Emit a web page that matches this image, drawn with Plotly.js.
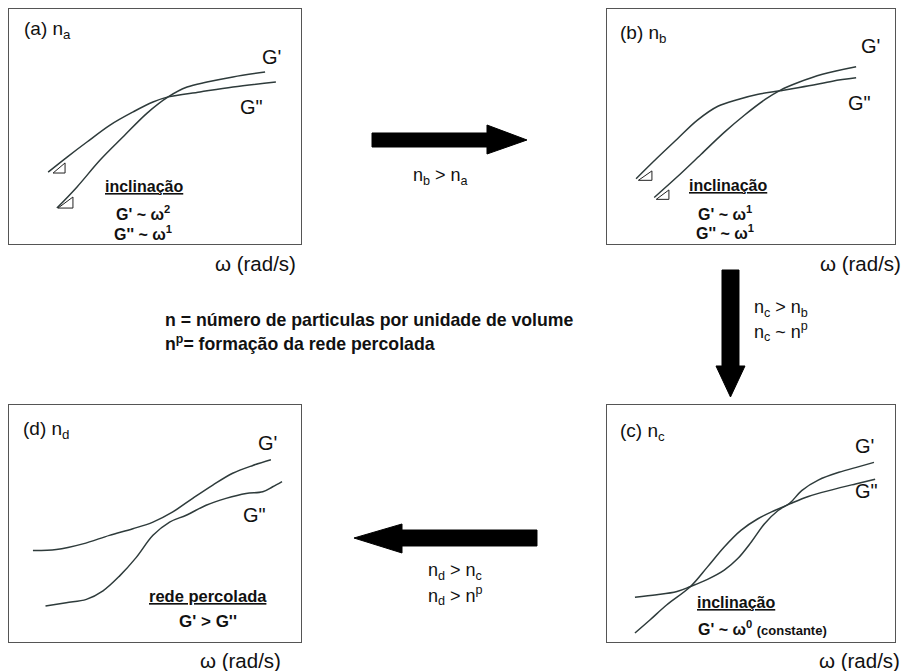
<!DOCTYPE html>
<html>
<head>
<meta charset="utf-8">
<script src="https://cdn.plot.ly/plotly-3.0.1.min.js"></script>
<style>html,body{margin:0;padding:0;background:#fff;}#chart{width:905px;height:671px;}</style>
</head>
<body>
<div id="chart"></div>
<script>
// ---- data (normalised omega 0-100, modulus 0-100 inside each panel) ----
// Panel (a)
const a_Gpp_x = [13.4, 19.9, 26.7, 34.6, 42.5, 49.3, 54.5, 65.4, 76.7, 91.4];
const a_Gpp_y = [30.6, 37.0, 43.4, 50.6, 56.2, 60.4, 62.6, 64.7, 66.8, 68.9];
const a_Gp_x  = [16.4, 23.3, 31.2, 39.0, 47.3, 54.5, 61.0, 67.8, 76.7, 87.7];
const a_Gp_y  = [15.3, 24.3, 35.7, 45.5, 55.7, 62.6, 66.8, 68.9, 71.1, 73.2];
const a_tri1_x = [15.1, 19.2, 19.2, 15.1];
const a_tri1_y = [30.2, 34.5, 30.2, 30.2];
const a_tri2_x = [16.8, 21.9, 21.9, 16.8];
const a_tri2_y = [15.3, 20.0, 15.3, 15.3];
// Panel (b)
const b_Gpp_x = [10.1, 17.4, 24.4, 31.4, 38.5, 45.5, 52.5, 60.1, 70.1, 78.3, 86.5];
const b_Gpp_y = [27.8, 36.6, 44.7, 52.7, 58.6, 61.5, 63.7, 65.2, 67.3, 69.3, 70.7];
const b_Gp_x  = [16.4, 24.4, 32.6, 40.8, 47.8, 54.9, 60.1, 66.6, 74.8, 86.5];
const b_Gp_y  = [19.8, 28.6, 38.1, 47.6, 54.9, 61.5, 65.4, 68.8, 72.2, 75.4];
const b_tri1_x = [10.9, 15.6, 15.6, 10.9];
const b_tri1_y = [27.1, 31.1, 27.1, 27.1];
const b_tri2_x = [17.1, 21.5, 21.5, 17.1];
const b_tri2_y = [19.0, 23.0, 19.0, 19.0];
// Panel (c)
const c_Gp_x  = [9.7, 17.3, 24.3, 29.0, 34.9, 40.7, 45.4, 50.1, 54.7, 59.4, 63.5, 67.6, 73.5, 80.5, 87.5, 92.7];
const c_Gp_y  = [18.9, 19.9, 21.3, 23.4, 26.4, 30.3, 35.2, 42.2, 49.9, 55.5, 58.6, 63.9, 68.4, 71.6, 74.0, 75.8];
const c_Gpp_x = [9.7, 15.0, 20.8, 29.0, 34.9, 40.7, 46.5, 52.4, 58.2, 63.5, 69.9, 78.1, 86.3, 93.1];
const c_Gpp_y = [3.8, 9.4, 15.7, 23.4, 31.7, 40.1, 47.1, 52.0, 55.5, 58.3, 61.4, 64.2, 66.7, 68.7];
// Panel (d)
const d_Gp_x  = [8.2, 16.2, 25.3, 34.4, 42.4, 49.3, 56.1, 62.9, 69.8, 76.6, 83.5, 89.7];
const d_Gp_y  = [38.6, 39.0, 41.4, 45.0, 47.8, 50.6, 54.9, 60.6, 66.2, 71.2, 74.5, 76.9];
const d_Gpp_x = [12.5, 19.6, 26.5, 32.2, 37.9, 43.6, 49.3, 55.0, 60.7, 67.5, 74.3, 81.2, 86.9, 90.3, 93.5];
const d_Gpp_y = [15.2, 16.6, 18.0, 21.6, 27.9, 35.7, 45.0, 50.6, 53.5, 57.7, 60.6, 62.7, 63.4, 65.5, 67.7];

// ---- layout helpers ----
const W = 905, H = 671;
const px = x => x / W;
const py = y => 1 - y / H;
const FONT = 'Arial, "Liberation Sans", sans-serif';
const curveColor = '#2e3b3b';

function curve(x, y, ax) {
  return {x: x, y: y, xaxis: 'x' + ax, yaxis: 'y' + ax, mode: 'lines', type: 'scatter',
    line: {color: curveColor, width: 1.5, shape: 'spline', smoothing: 1}, hoverinfo: 'skip', showlegend: false};
}
function tri(x, y, ax) {
  return {x: x, y: y, xaxis: 'x' + ax, yaxis: 'y' + ax, mode: 'lines', type: 'scatter',
    line: {color: '#222', width: 1}, hoverinfo: 'skip', showlegend: false};
}

const traces = [
  curve(a_Gpp_x, a_Gpp_y, ''), curve(a_Gp_x, a_Gp_y, ''), tri(a_tri1_x, a_tri1_y, ''), tri(a_tri2_x, a_tri2_y, ''),
  curve(b_Gpp_x, b_Gpp_y, '2'), curve(b_Gp_x, b_Gp_y, '2'), tri(b_tri1_x, b_tri1_y, '2'), tri(b_tri2_x, b_tri2_y, '2'),
  curve(c_Gp_x, c_Gp_y, '3'), curve(c_Gpp_x, c_Gpp_y, '3'),
  curve(d_Gp_x, d_Gp_y, '4'), curve(d_Gpp_x, d_Gpp_y, '4')
];

function axis(domain, anchor) {
  return {domain: domain, anchor: anchor, range: [0, 100], showgrid: false, zeroline: false,
    showticklabels: false, ticks: '', showline: true, mirror: true, linecolor: '#555', linewidth: 1.3, fixedrange: true};
}
const topY = [py(244), py(9)], botY = [py(642), py(405)];
const leftX = [px(9), px(301)], rightX = [px(607), px(895)];

const annotations = [];
function ann(ref, x, y, text, size, xanchor, extra) {
  const o = {xref: ref === 'paper' ? 'paper' : 'x' + ref, yref: ref === 'paper' ? 'paper' : 'y' + ref,
    x: x, y: y, text: text, showarrow: false, xanchor: xanchor || 'center', yanchor: 'middle',
    font: {family: FONT, size: size, color: '#111'}};
  Object.assign(o, extra || {});
  annotations.push(o);
}
// panel (a)
ann('', 4.5, 91, '(a) n<sub>a</sub>', 19, 'left');
ann('', 86, 79.6, "G'", 20, 'left');
ann('', 78.5, 58.3, 'G"', 20, 'left');
ann('', 46.2, 24.5, '<b><u>inclinação</u></b>', 16);
ann('', 45.9, 13.2, "<b>G' ~ ω<sup>2</sup></b>", 16);
ann('', 45.9, 4.8, "<b>G'' ~ ω<sup>1</sup></b>", 16);
// panel (b)
ann('2', 3.9, 89.3, '(b) n<sub>b</sub>', 19, 'left');
ann('2', 87.5, 84.2, "G'", 20, 'left');
ann('2', 83, 60, 'G"', 20, 'left');
ann('2', 42, 24.7, '<b><u>inclinação</u></b>', 16);
ann('2', 40.8, 13.4, "<b>G' ~ ω<sup>1</sup></b>", 16);
ann('2', 40.8, 5.0, "<b>G'' ~ ω<sup>1</sup></b>", 16);
// panel (c)
ann('3', 3.9, 88.4, '(c) n<sub>c</sub>', 19, 'left');
ann('3', 85.5, 82.8, "G'", 20, 'left');
ann('3', 85.5, 63.9, 'G"', 20, 'left');
ann('3', 44.8, 16.5, '<b><u>inclinação</u></b>', 16);
ann('3', 54, 5.8, "<b>G' ~ ω<sup>0</sup> <span style=\"font-size:13px\">(constante)</span></b>", 16);
// panel (d)
ann('4', 4.2, 89.6, '(d) n<sub>d</sub>', 19, 'left');
ann('4', 84.5, 84, "G'", 20, 'left');
ann('4', 79.5, 53.5, 'G"', 20, 'left');
ann('4', 68.1, 19.5, '<b><u>rede percolada</u></b>', 16.5);
ann('4', 68.1, 8.8, "<b>G' > G''</b>", 17);
// axis labels
ann('paper', px(298), py(263), 'ω (rad/s)', 20.5, 'right');
ann('paper', px(903), py(263), 'ω (rad/s)', 20.5, 'right');
ann('paper', px(283), py(660), 'ω (rad/s)', 20.5, 'right');
ann('paper', px(902), py(660), 'ω (rad/s)', 20.5, 'right');
// arrow labels
ann('paper', px(440), py(177), 'n<sub>b</sub> > n<sub>a</sub>', 18);
ann('paper', px(752), py(309), 'n<sub>c</sub> > n<sub>b</sub>', 18, 'left');
ann('paper', px(752), py(331), 'n<sub>c</sub> ~ n<sup>p</sup>', 18, 'left');
ann('paper', px(455), py(571), 'n<sub>d</sub> > n<sub>c</sub>', 18);
ann('paper', px(455), py(595), 'n<sub>d</sub> > n<sup>p</sup>', 18);
// legend text
ann('paper', px(163), py(320), '<b>n = número de particulas por unidade de volume</b>', 17.7, 'left');
ann('paper', px(163), py(343), '<b>n<sup>p</sup>= formação da rede percolada</b>', 17.7, 'left');

// block arrows (pixel outlines converted to paper)
const arrowOutlines = [
  [[372,133],[487,133],[487,125],[527,140],[487,154],[487,147],[372,147]],
  [[722,270],[739,270],[739,366],[745,366],[730.5,397],[716,366],[722,366]],
  [[537,530],[402,530],[402,524],[354,538],[402,553],[402,546],[537,546]]
];
const shapes = arrowOutlines.map(pts => ({
  type: 'path', xref: 'paper', yref: 'paper', fillcolor: '#000', line: {color: '#000', width: 1},
  path: pts.map((p, i) => (i ? 'L' : 'M') + px(p[0]).toFixed(5) + ',' + py(p[1]).toFixed(5)).join(' ') + ' Z'
}));

const layout = {
  width: W, height: H, margin: {l: 0, r: 0, t: 0, b: 0},
  paper_bgcolor: '#fff', plot_bgcolor: '#fff', showlegend: false,
  font: {family: FONT, color: '#111'},
  xaxis: axis(leftX, 'y'), yaxis: axis(topY, 'x'),
  xaxis2: axis(rightX, 'y2'), yaxis2: axis(topY, 'x2'),
  xaxis3: axis(rightX, 'y3'), yaxis3: axis(botY, 'x3'),
  xaxis4: axis(leftX, 'y4'), yaxis4: axis(botY, 'x4'),
  annotations: annotations, shapes: shapes
};
Plotly.newPlot('chart', traces, layout, {displayModeBar: false, staticPlot: true});
</script>
</body>
</html>
